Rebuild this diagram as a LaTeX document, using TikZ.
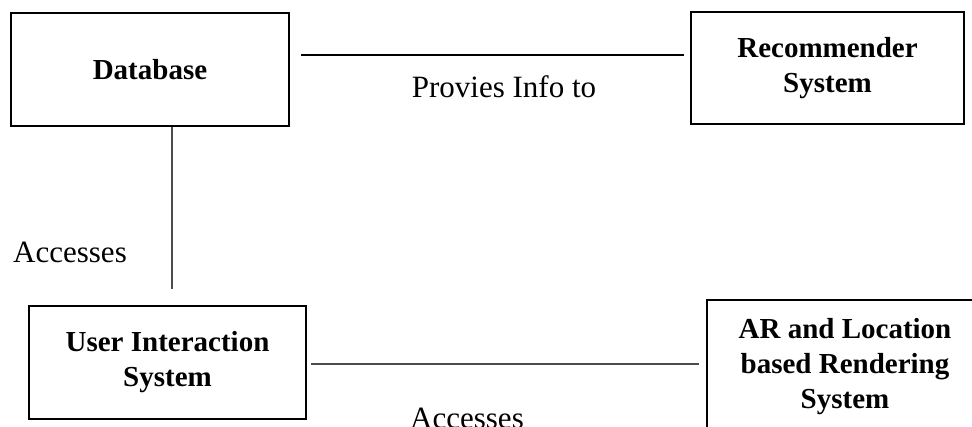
\documentclass[tikz,border=0pt]{standalone}
\usepackage{fontspec}
\setmainfont{Liberation Serif}
\begin{document}
\begin{tikzpicture}[x=1pt,y=-1pt,
  box/.style={draw=black, line width=1.6pt, fill=none, inner sep=0pt, align=center,
    font=\fontsize{29}{35}\selectfont\bfseries},
  conn/.style={line width=1.1pt},
  lbl/.style={inner sep=0pt, font=\fontsize{31}{36}\selectfont}]
\useasboundingbox (0,0) rectangle (972,426);
\begin{scope}
\clip (0,0) rectangle (972,426);
\node[box, minimum width=278pt, minimum height=113pt] (db) at (150,69.5) {Database};
\node[box, minimum width=273pt, minimum height=112pt] (rec) at (827.5,68) {Recommender\\System};
\node[box, minimum width=277pt, minimum height=113pt] (user) at (167.5,362.5) {User Interaction\\System};
\node[box, minimum width=276pt, minimum height=134pt] (ar) at (845,367) {AR and Location\\based Rendering\\System};
\draw[conn, black, shorten <=11pt, shorten >=6pt] ([yshift=14.5pt]db.east) -- ([yshift=14.5pt]db.east -| rec.west);
\draw[conn, black!70, shorten >=16pt] ([xshift=22pt]db.south) -- ([xshift=22pt]db.south |- user.north);
\draw[conn, black!70, shorten <=4pt, shorten >=7pt] ([yshift=-1.5pt]user.east) -- ([yshift=-1.5pt]user.east -| ar.west);
\node[lbl, anchor=base] (l1) at (504,97) {Provies Info to};
\node[lbl, anchor=base west] (l2) at (13,262) {Accesses};
\node[lbl, anchor=base west] (l3) at (410,428) {Accesses};
\end{scope}
\end{tikzpicture}
\end{document}
